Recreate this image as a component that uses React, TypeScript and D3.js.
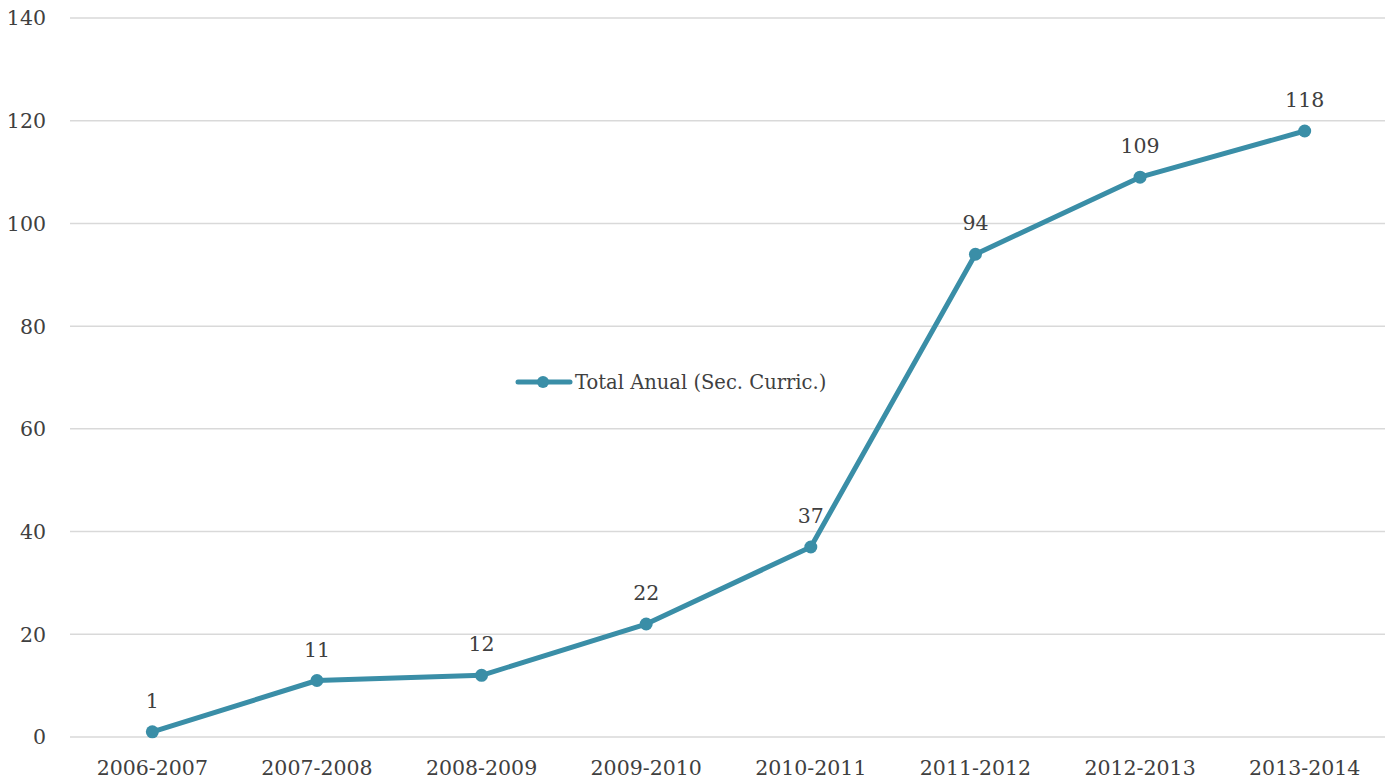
import React from "react";
import * as d3 from "d3";

const categories = ["2006-2007", "2007-2008", "2008-2009", "2009-2010", "2010-2011", "2011-2012", "2012-2013", "2013-2014"];
const values = [1, 11, 12, 22, 37, 94, 109, 118];
const yTicks = [0, 20, 40, 60, 80, 100, 120, 140];
const seriesName = "Total Anual (Sec. Curric.)";

const W = 1385;
const H = 782;
const FONT = "'DejaVu Serif', serif";
const COLOR = "#3a8ea7";
const TEXT = "#404040";

export default function App() {
  const x = d3.scalePoint<string>().domain(categories).range([70, 1387]).padding(0.5);
  const y = d3.scaleLinear().domain([0, 140]).range([737, 18]);
  const line = d3
    .line<number>()
    .x((_, i) => x(categories[i]) as number)
    .y((d) => y(d));

  return (
    <svg width={W} height={H} style={{ position: "absolute", left: 0, top: 0, background: "#fff" }}>
      {yTicks.map((t) => (
        <g key={t}>
          <line x1={70} x2={W} y1={y(t)} y2={y(t)} stroke="#d9d9d9" strokeWidth={1.5} />
          <text x={46} y={y(t)} dy="0.36em" textAnchor="end" fontFamily={FONT} fontSize={20.5} fill={TEXT}>
            {t}
          </text>
        </g>
      ))}
      {categories.map((c) => (
        <text key={c} x={x(c)} y={775} textAnchor="middle" fontFamily={FONT} fontSize={20.5} fill={TEXT}>
          {c}
        </text>
      ))}
      <path d={line(values) || ""} fill="none" stroke={COLOR} strokeWidth={5} strokeLinejoin="round" strokeLinecap="round" />
      {values.map((v, i) => (
        <g key={i}>
          <circle cx={x(categories[i])} cy={y(v)} r={6.5} fill={COLOR} />
          <text x={x(categories[i])} y={y(v) - 24} textAnchor="middle" fontFamily={FONT} fontSize={20.5} fill={TEXT}>
            {v}
          </text>
        </g>
      ))}
      <g>
        <line x1={518} x2={570} y1={382} y2={382} stroke={COLOR} strokeWidth={5} strokeLinecap="round" />
        <circle cx={543} cy={382} r={6} fill={COLOR} />
        <text x={575} y={382} dy="0.36em" fontFamily={FONT} fontSize={19.5} fill={TEXT}>
          {seriesName}
        </text>
      </g>
    </svg>
  );
}
